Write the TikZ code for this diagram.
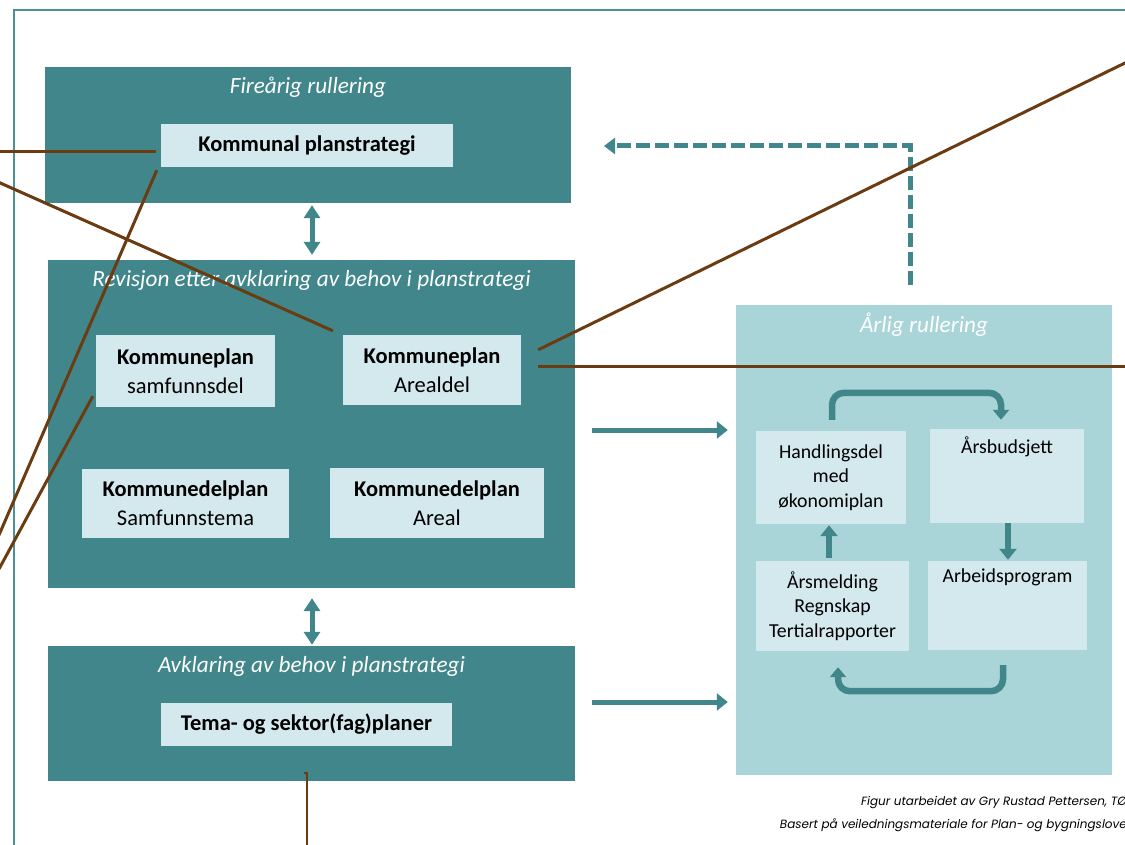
\documentclass[tikz,border=0pt]{standalone}
\usepackage{fontspec}
\setmainfont{Carlito}
\newfontfamily\footfont{Poppins}
\usetikzlibrary{arrows.meta, positioning}
\definecolor{teal1}{HTML}{41868A}
\definecolor{pale}{HTML}{D4E9EE}
\definecolor{aqua}{HTML}{AAD5D8}
\definecolor{brown1}{HTML}{6B3C12}
\definecolor{rim}{HTML}{4B9297}

\begin{document}
\begin{tikzpicture}[x=1pt, y=-1pt]
	\tikzset{panel/.style={fill=teal1, inner sep=0pt}, plan/.style={fill=pale, inner sep=0pt, align=center, font=\fontsize{22.5}{29}\selectfont},
		head/.style={text=white, inner sep=0pt, font=\fontsize{23.2}{26}\selectfont\itshape}, cyc/.style={fill=pale, inner sep=0pt, align=center, font=\fontsize{19.8}{24.5}\selectfont},
		big/.style={draw=teal1, line width=5pt, -{Triangle[width=17pt,length=11pt]}}, dbl/.style={draw=teal1, line width=5pt, {Triangle[width=16pt,length=13pt]}-{Triangle[width=16pt,length=13pt]}},
		cycarrow/.style={draw=teal1, line width=6.5pt, rounded corners=12pt, -{Triangle[width=16pt,length=10pt]}}, back/.style={draw=teal1, line width=5pt, dash pattern=on 14pt off 5pt, -{Triangle[width=16pt,length=11pt]}},
		lead/.style={draw=brown1, line width=3pt}}

	\clip (0,0) rectangle (1125,845);
	\draw[rim, line width=2.5pt] (14,10) rectangle (1140,860);

	% left column
	\node[panel, minimum width=526, minimum height=136] (fire) at (308,135) {};
	\node[head] (firet) at (308,87) {Fireårig rullering};
	\node[plan, minimum width=292, minimum height=43] (kps) at (307,145.5) {\bfseries Kommunal planstrategi};

	\node[panel, minimum width=527, minimum height=328] (rev) at (311.5,424) {};
	\node[head] (revt) at (311.5,280) {Revisjon etter avklaring av behov i planstrategi};
	\node[plan, minimum width=179, minimum height=72] (ksam) at (185.5,371) {{\bfseries Kommuneplan}\\samfunnsdel};
	\node[plan, minimum width=178, minimum height=70] (kareal) at (432,370) {{\bfseries Kommuneplan}\\Arealdel};
	\node[plan, minimum width=207, minimum height=69] (kdsam) at (185.5,503.5) {{\bfseries Kommunedelplan}\\Samfunnstema};
	\node[plan, minimum width=214, minimum height=70] (kdareal) at (437,503) {{\bfseries Kommunedelplan}\\Areal};

	\node[panel, minimum width=527, minimum height=135] (avk) at (311.5,713.5) {};
	\node[head] (avkt) at (311.5,666) {Avklaring av behov i planstrategi};
	\node[plan, minimum width=291, minimum height=43] (tema) at (306.5,724.5) {\bfseries Tema- og sektor(fag)planer};

	% right column
	\node[fill=aqua, inner sep=0pt, minimum width=376, minimum height=470] (arl) at (924,540) {};
	\node[head] (arlt) at (924,325) {Årlig rullering};
	\node[cyc, minimum width=150, minimum height=93] (hand) at (831,477.5) {Handlingsdel\\med\\økonomiplan};
	\node[cyc, minimum width=154, minimum height=94] (bud) at (1007,476) {};
	\node[cyc, fill=none, below=8pt of bud.north] (budt) {Årsbudsjett};
	\node[cyc, minimum width=153, minimum height=90] (mel) at (832.5,606) {Årsmelding\\Regnskap\\Tertialrapporter};
	\node[cyc, minimum width=159, minimum height=89] (arb) at (1007.5,605.5) {};
	\node[cyc, fill=none, below=8pt of arb.north] (arbt) {Arbeidsprogram};

	\node[anchor=east, inner sep=0pt, font=\footfont\itshape\fontsize{12}{14}\selectfont] (fig) at (1127,803) {Figur utarbeidet av Gry Rustad Pettersen, TØ};
	\node[anchor=east, inner sep=0pt, font=\footfont\itshape\fontsize{12}{14}\selectfont] (bas) at (1127,825) {Basert på veiledningsmateriale for Plan- og bygningslove};

	% arrows
	\draw[dbl] ([xshift=4pt,yshift=-2pt]fire.south) -- ([xshift=0.5pt,yshift=5pt]rev.north);
	\draw[dbl] ([xshift=0.5pt,yshift=-10pt]rev.south) -- ([xshift=0.5pt,yshift=1pt]avk.north);
	\draw[big] ([xshift=17pt,yshift=-6pt]rev.east) -- ([xshift=-8pt,yshift=-6pt]rev.east -| arl.west);
	\draw[big] ([xshift=17pt,yshift=11.5pt]avk.east) -- ([xshift=-8pt,yshift=11.5pt]avk.east -| arl.west);
	\coordinate (dtip) at (604,146);
	\draw[back] ([xshift=-14pt,yshift=20pt]arl.north) |- (dtip);

	\draw[cycarrow] ([xshift=1pt,yshift=11pt]hand.north) -- ++(0,-27) -| ([xshift=-6pt,yshift=9pt]bud.north);
	\draw[big, line width=6pt] ([xshift=1pt]bud.south) -- ([xshift=0.5pt,yshift=1pt]arb.north);
	\draw[big, line width=6pt] ([xshift=-3.5pt,yshift=3pt]mel.north) -- ([xshift=-2pt,yshift=-1pt]hand.south);
	\draw[cycarrow] ([xshift=-4.5pt,yshift=-15pt]arb.south) -- ++(0,26) -| ([xshift=5.5pt,yshift=-16pt]mel.south);

	% leader lines
	\coordinate (l1) at (-2,152);
	\coordinate (l2) at (-2,182);
	\coordinate (l3) at (-1,535);
	\coordinate (l4) at (-1,569);
	\coordinate (r1) at (1127,62);
	\coordinate (r2) at (1127,366);
	\coordinate (b1) at (307,847);
	\draw[lead] (l1) -- ([xshift=-5pt,yshift=-6.5pt]kps.west);
	\draw[lead] (l2) -- ([xshift=-10pt,yshift=4pt]kareal.north west);
	\draw[lead] (l3) -- ([xshift=-4pt,yshift=-3pt]kps.south west);
	\draw[lead] (l4) -- ([xshift=-3pt,yshift=11pt]ksam.south west);
	\draw[lead] (r1) -- ([xshift=17pt,yshift=-15pt]kareal.north east);
	\draw[lead] (r2) -- ([xshift=17pt,yshift=4pt]kareal.east);
	\draw[draw=brown1, line width=1.5pt] ([xshift=-8pt,yshift=8pt]avk.south) -- ([xshift=-4.5pt,yshift=8pt]avk.south) -- (b1);
\end{tikzpicture}
\end{document}
